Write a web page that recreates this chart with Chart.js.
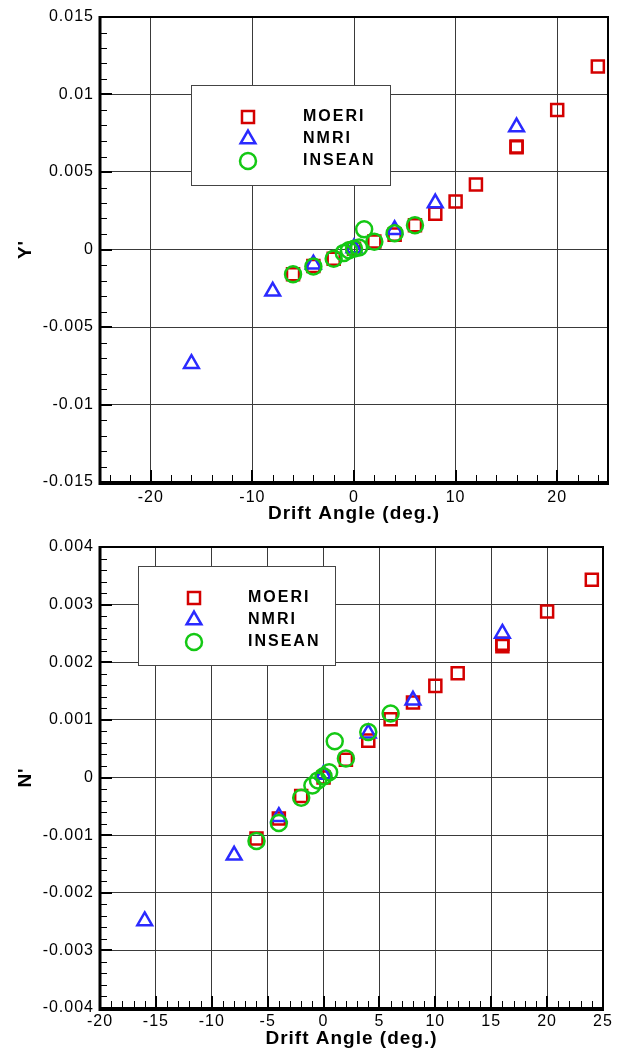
<!DOCTYPE html>
<html>
<head>
<meta charset="utf-8">
<script src="https://cdn.jsdelivr.net/npm/chart.js@4/dist/chart.umd.min.js"></script>
<style>
  html, body { margin: 0; padding: 0; background: #fff; }
  canvas { display: block; }
</style>
</head>
<body>
<canvas id="chart-y" width="619" height="525"></canvas>
<canvas id="chart-n" width="619" height="525"></canvas>
<script>
// Datos (angulo de deriva en grados)
const driftMoeri = [-6, -4, -2, 0, 2, 4, 6, 8, 10, 12, 16, 16, 20, 24];
const driftNmri = [-16, -8, -4, 0, 4, 8, 16];
const driftInsean = [-6, -4, -2, -1, -0.5, 0, 0.5, 1, 2, 4, 6];

// Fuerza lateral Y'
const yMoeri = [-0.0016, -0.00106, -0.0006, 0.00005, 0.00052, 0.00096, 0.00157, 0.0023, 0.0031, 0.0042, 0.0066, 0.00665, 0.0090, 0.0118];
const yNmri = [-0.00737, -0.0027, -0.00095, 0.0001, 0.00127, 0.0030, 0.0079];
const yInsean = [-0.0016, -0.0011, -0.0006, -0.00022, -0.00005, 0.00005, 0.00013, 0.0013, 0.0005, 0.00105, 0.00157];

// Momento de guinada N'
const nMoeri = [-0.00106, -0.00071, -0.00032, 0.0, 0.00031, 0.00064, 0.00101, 0.0013, 0.00159, 0.00181, 0.00228, 0.00232, 0.00288, 0.00343];
const nNmri = [-0.00249, -0.00135, -0.00068, 0.00005, 0.00077, 0.00134, 0.0025];
const nInsean = [-0.0011, -0.00079, -0.00035, -0.00014, -0.00005, 0.00002, 0.00009, 0.00063, 0.00033, 0.00079, 0.00111];

const seriesNames = ['MOERI', 'NMRI', 'INSEAN'];

// Marcas de los ejes
const xTicksY = [-20, -10, 0, 10, 20];
const yTicksY = [-0.015, -0.01, -0.005, 0, 0.005, 0.01, 0.015];
const xTicksN = [-20, -15, -10, -5, 0, 5, 10, 15, 20, 25];
const yTicksN = [-0.004, -0.003, -0.002, -0.001, 0, 0.001, 0.002, 0.003, 0.004];

Chart.defaults.font.family = '"Liberation Sans", Arial, sans-serif';
Chart.defaults.color = '#000';

const estilos = [
  { pointStyle: 'rect', color: '#d40000', radius: 8.5 },
  { pointStyle: 'triangle', color: '#2a2aff', radius: 8.5 },
  { pointStyle: 'circle', color: '#14c814', radius: 8 },
];

const fmt = v => String(parseFloat(Number(v).toFixed(4)));
const toPoints = (xs, ys) => xs.map((x, i) => ({ x: x, y: ys[i] }));

function marker(ctx, style, r, x, y) {
  const dp = Chart.helpers && Chart.helpers.drawPoint;
  if (dp) {
    dp(ctx, { pointStyle: style, radius: r, borderWidth: ctx.lineWidth, rotation: 0 }, x, y);
    return;
  }
  ctx.beginPath();
  if (style === 'rect') {
    const s = r * Math.SQRT1_2;
    ctx.rect(x - s, y - s, 2 * s, 2 * s);
  } else if (style === 'triangle') {
    ctx.moveTo(x, y - r);
    ctx.lineTo(x + r * 0.866, y + r / 2);
    ctx.lineTo(x - r * 0.866, y + r / 2);
    ctx.closePath();
  } else {
    ctx.arc(x, y, r, 0, Math.PI * 2);
  }
  ctx.stroke();
}

// leyenda dentro del area del grafico
const leyendaPlugin = {
  id: 'leyenda',
  afterDatasetsDraw(chart, args, o) {
    const ctx = chart.ctx;
    ctx.save();
    ctx.fillStyle = '#fff';
    ctx.fillRect(o.x, o.y, o.w, o.h);
    ctx.strokeStyle = '#444';
    ctx.lineWidth = 1;
    ctx.strokeRect(o.x + 0.5, o.y + 0.5, o.w, o.h);
    chart.data.datasets.forEach((ds, i) => {
      const y = o.rows[i];
      ctx.strokeStyle = ds.borderColor;
      ctx.fillStyle = 'rgba(0,0,0,0)';
      ctx.lineWidth = ds.borderWidth;
      marker(ctx, ds.pointStyle, ds.pointRadius, o.markerX, y);
      ctx.fillStyle = '#000';
      ctx.font = 'bold 16px "Liberation Sans", Arial, sans-serif';
      ctx.letterSpacing = '2px';
      ctx.textBaseline = 'middle';
      ctx.textAlign = 'left';
      ctx.fillText(ds.label, o.textX, y);
    });
    ctx.restore();
  }
};

// marco y marcas hacia adentro
const marcoPlugin = {
  id: 'marco',
  beforeDraw(chart) {
    chart.ctx.letterSpacing = '1px';
  },
  beforeDatasetsDraw(chart, args, o) {
    const { ctx, chartArea: a, scales: { x, y } } = chart;
    ctx.save();
    ctx.strokeStyle = '#000';
    const isMajor = (v, list, step) => list.some(t => Math.abs(t - v) < step / 10);
    // menores
    ctx.lineWidth = 1;
    ctx.beginPath();
    for (let k = Math.ceil(x.min / o.xMinor - 1e-9); k * o.xMinor <= x.max + 1e-9; k++) {
      const v = k * o.xMinor;
      if (isMajor(v, o.xMajor, o.xMinor)) continue;
      const px = Math.round(x.getPixelForValue(v)) + 0.5;
      ctx.moveTo(px, a.bottom);
      ctx.lineTo(px, a.bottom - 7);
    }
    for (let k = Math.ceil(y.min / o.yMinor - 1e-9); k * o.yMinor <= y.max + 1e-12; k++) {
      const v = k * o.yMinor;
      if (isMajor(v, o.yMajor, o.yMinor)) continue;
      const py = Math.round(y.getPixelForValue(v)) + 0.5;
      ctx.moveTo(a.left, py);
      ctx.lineTo(a.left + 7, py);
    }
    ctx.stroke();
    // mayores
    ctx.lineWidth = 2;
    ctx.beginPath();
    o.xMajor.forEach(v => {
      const px = Math.round(x.getPixelForValue(v));
      ctx.moveTo(px, a.bottom);
      ctx.lineTo(px, a.bottom - 12);
    });
    o.yMajor.forEach(v => {
      const py = Math.round(y.getPixelForValue(v));
      ctx.moveTo(a.left, py);
      ctx.lineTo(a.left + 12, py);
    });
    ctx.stroke();
    // marco
    ctx.lineWidth = 2;
    ctx.strokeRect(a.left, a.top, a.right - a.left, a.bottom - a.top);
    ctx.lineWidth = 3;
    ctx.beginPath();
    ctx.moveTo(a.left, a.top - 1);
    ctx.lineTo(a.left, a.bottom + 1.5);
    ctx.lineTo(a.right + 1, a.bottom + 1.5);
    ctx.stroke();
    ctx.restore();
  }
};

function makeChart(id, cfg) {
  const datasets = cfg.series.map((s, i) => ({
    label: seriesNames[i],
    data: toPoints(s[0], s[1]),
    pointStyle: estilos[i].pointStyle,
    pointRadius: estilos[i].radius,
    borderColor: estilos[i].color,
    backgroundColor: 'rgba(0,0,0,0)',
    borderWidth: 2.5,
    order: 3 - i,
  }));
  return new Chart(document.querySelector(id), {
    type: 'scatter',
    data: { datasets: datasets },
    options: {
      responsive: false,
      animation: false,
      devicePixelRatio: 1,
      events: [],
      layout: { padding: cfg.padding },
      plugins: {
        legend: { display: false },
        tooltip: { enabled: false },
        leyenda: cfg.legend,
        marco: { xMajor: cfg.xTicks, yMajor: cfg.yTicks, xMinor: cfg.xMinor, yMinor: cfg.yMinor },
      },
      scales: {
        x: {
          type: 'linear',
          min: cfg.xMin, max: cfg.xMax,
          afterBuildTicks: s => { s.ticks = cfg.xTicks.map(v => ({ value: v })); },
          afterFit: s => { s.height = cfg.xHeight; },
          grid: { color: '#3a3a3a', lineWidth: 1, drawTicks: false },
          border: { display: false },
          ticks: { font: { size: 16 }, padding: cfg.xPad, autoSkip: false, maxRotation: 0, callback: v => fmt(v) },
          title: { display: true, text: 'Drift Angle (deg.)', font: { size: 19, weight: 'bold' }, padding: { top: 0, bottom: 0 } },
        },
        y: {
          type: 'linear',
          min: cfg.yMin, max: cfg.yMax,
          afterBuildTicks: s => { s.ticks = cfg.yTicks.map(v => ({ value: v })); },
          afterFit: s => { s.width = 100; },
          grid: { color: '#3a3a3a', lineWidth: 1, drawTicks: false },
          border: { display: false },
          ticks: { font: { size: 16 }, padding: 6, autoSkip: false, callback: v => fmt(v) },
          title: { display: true, text: cfg.yTitle, font: { size: 19, weight: 'bold' }, padding: { top: 14, bottom: 0 } },
        },
      },
    },
    plugins: [marcoPlugin, leyendaPlugin],
  });
}

// Grafica Y'
const chartY = makeChart('#chart-y', {
  series: [[driftMoeri, yMoeri], [driftNmri, yNmri], [driftInsean, yInsean]],
  xMin: -25, xMax: 25, yMin: -0.015, yMax: 0.015,
  xTicks: xTicksY, yTicks: yTicksY, xMinor: 2, yMinor: 0.001,
  yTitle: "Y'",
  padding: { top: 17, right: 9, left: 0, bottom: 0 },
  xHeight: 43, xPad: 6,
  legend: { x: 191, y: 85, w: 199, h: 100, markerX: 248, textX: 303, rows: [117, 139, 161] },
});

// Grafica N'
const chartN = makeChart('#chart-n', {
  series: [[driftMoeri, nMoeri], [driftNmri, nNmri], [driftInsean, nInsean]],
  xMin: -20, xMax: 25, yMin: -0.004, yMax: 0.004,
  xTicks: xTicksN, yTicks: yTicksN, xMinor: 1, yMinor: 0.0002,
  yTitle: "N'",
  padding: { top: 22, right: 16, left: 0, bottom: 0 },
  xHeight: 42, xPad: 4,
  legend: { x: 138, y: 41, w: 197, h: 99, markerX: 194, textX: 248, rows: [73, 95, 117] },
});
</script>
</body>
</html>
